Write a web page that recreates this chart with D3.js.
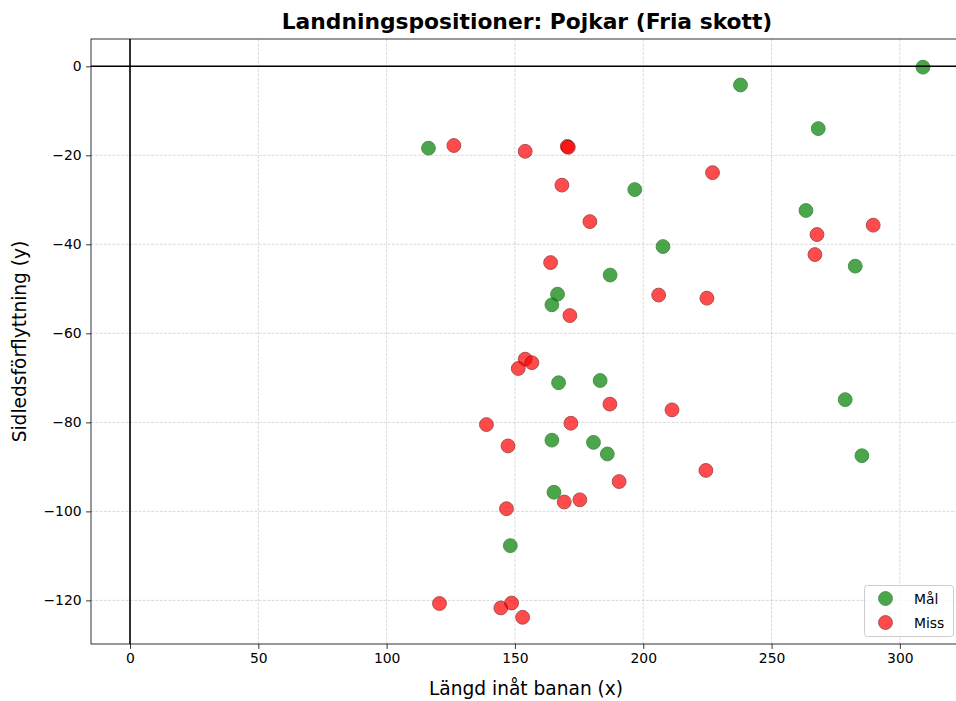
<!DOCTYPE html>
<html>
<head>
<meta charset="utf-8">
<script src="https://cdn.jsdelivr.net/npm/d3@7"></script>
<style>
  html, body { margin: 0; padding: 0; background: #fff; }
  svg { display: block; font-family: "DejaVu Sans", sans-serif; }
</style>
</head>
<body>
<svg id="chart" width="956" height="701"></svg>
<script>
// Landing positions, boys (free shots): x = length along the lane, y = lateral offset
const goalX = [116.3, 309.0, 237.9, 268.2, 196.7, 263.4, 207.7, 282.6, 187.1, 166.6,
               164.4, 167.0, 183.2, 278.7, 164.4, 180.6, 186.0, 285.2, 165.2, 148.2];
const goalY = [-18.4, -0.2, -4.2, -14.0, -27.7, -32.4, -40.5, -44.9, -46.9, -51.2,
               -53.6, -71.1, -70.6, -74.9, -84.0, -84.5, -87.1, -87.5, -95.7, -107.7];

const missX = [126.2, 154.0, 170.4, 170.8, 227.0, 168.3, 289.6, 267.7, 179.2, 266.9,
               163.9, 171.4, 206.0, 224.8, 154.0, 156.6, 151.3, 187.0, 211.2, 171.8,
               138.9, 147.3, 224.4, 190.6, 169.2, 175.3, 146.7, 120.6, 144.5, 148.7, 153.0];
const missY = [-17.8, -19.1, -18.0, -18.2, -23.9, -26.7, -35.7, -37.8, -34.9, -42.3,
               -44.1, -56.0, -51.4, -52.1, -65.8, -66.6, -67.9, -75.9, -77.2, -80.2,
               -80.5, -85.3, -90.8, -93.3, -97.9, -97.4, -99.4, -120.7, -121.7, -120.6, -123.8];

const xTicks = [0, 50, 100, 150, 200, 250, 300];
const yTicks = [0, -20, -40, -60, -80, -100, -120];

const seriesNames = ["Mål", "Miss"];
const fills = ["green", "red"];
const edges = ["darkgreen", "darkred"];

const svg = d3.select("#chart");

const plot = { left: 91, right: 963, top: 39, bottom: 644 };

const x = d3.scaleLinear().domain([-15.2, 324.6]).range([plot.left, plot.right]);
const y = d3.scaleLinear().domain([6.13, -129.8]).range([plot.top, plot.bottom]);

svg.append("defs").append("clipPath").attr("id", "plotclip")
  .append("rect")
  .attr("x", plot.left).attr("y", plot.top)
  .attr("width", plot.right - plot.left).attr("height", plot.bottom - plot.top);

// dashed grid
const grid = svg.append("g").attr("clip-path", "url(#plotclip)");
grid.selectAll("line.gx").data(xTicks).join("line")
  .attr("x1", d => x(d)).attr("x2", d => x(d))
  .attr("y1", plot.top).attr("y2", plot.bottom)
  .attr("stroke", "#b0b0b0").attr("stroke-opacity", 0.6)
  .attr("stroke-width", 0.8).attr("stroke-dasharray", "3,1.3");
grid.selectAll("line.gy").data(yTicks).join("line")
  .attr("y1", d => y(d)).attr("y2", d => y(d))
  .attr("x1", plot.left).attr("x2", plot.right)
  .attr("stroke", "#b0b0b0").attr("stroke-opacity", 0.6)
  .attr("stroke-width", 0.8).attr("stroke-dasharray", "3,1.3");

// scatter points
const pts = svg.append("g").attr("clip-path", "url(#plotclip)");
const goalData = goalX.map((v, i) => [v, goalY[i]]);
const missData = missX.map((v, i) => [v, missY[i]]);
[goalData, missData].forEach((data, k) => {
  pts.append("g").selectAll("circle").data(data).join("circle")
    .attr("cx", d => x(d[0])).attr("cy", d => y(d[1]))
    .attr("r", 6.9)
    .attr("fill", fills[k]).attr("stroke", edges[k])
    .attr("stroke-width", 1).attr("opacity", 0.7);
});

// zero reference lines
const zero = svg.append("g").attr("clip-path", "url(#plotclip)");
zero.append("line")
  .attr("x1", plot.left).attr("x2", plot.right)
  .attr("y1", y(0)).attr("y2", y(0))
  .attr("stroke", "black").attr("stroke-width", 1.6);
zero.append("line")
  .attr("x1", x(0)).attr("x2", x(0))
  .attr("y1", plot.top).attr("y2", plot.bottom)
  .attr("stroke", "black").attr("stroke-width", 1.6);

// axes
const xAxis = d3.axisBottom(x).tickValues(xTicks).tickSize(4.9).tickPadding(4.5)
  .tickFormat(d3.format("d"));
const yAxis = d3.axisLeft(y).tickValues(yTicks).tickSize(4.9).tickPadding(4.5)
  .tickFormat(d3.format("d"));

const gx = svg.append("g").attr("transform", `translate(0,${plot.bottom})`).call(xAxis);
const gy = svg.append("g").attr("transform", `translate(${plot.left},0)`).call(yAxis);
[gx, gy].forEach(g => {
  g.select(".domain").remove();
  g.selectAll(".tick line").attr("stroke", "#000").attr("stroke-width", 0.8);
  g.selectAll(".tick text").attr("fill", "#000").attr("font-size", 13.9)
    .attr("font-family", "DejaVu Sans");
});

// frame
svg.append("rect")
  .attr("x", plot.left).attr("y", plot.top)
  .attr("width", plot.right - plot.left).attr("height", plot.bottom - plot.top)
  .attr("fill", "none").attr("stroke", "#000").attr("stroke-width", 0.8);

// title and axis labels
const cx = (plot.left + plot.right) / 2;
svg.append("text").attr("x", 527).attr("y", 29)
  .attr("text-anchor", "middle").attr("font-size", 21.8).attr("font-weight", "bold")
  .text("Landningspositioner: Pojkar (Fria skott)");
svg.append("text").attr("x", 526).attr("y", 695)
  .attr("text-anchor", "middle").attr("font-size", 18.6)
  .text("Längd inåt banan (x)");
svg.append("text")
  .attr("transform", `translate(26,${(plot.top + plot.bottom) / 2}) rotate(-90)`)
  .attr("text-anchor", "middle").attr("font-size", 18.6)
  .text("Sidledsförflyttning (y)");

// legend, lower right
const lg = svg.append("g");
lg.append("rect")
  .attr("x", 864.5).attr("y", 585.5).attr("width", 89).attr("height", 51)
  .attr("rx", 3).attr("fill", "white").attr("fill-opacity", 0.8)
  .attr("stroke", "#cccccc").attr("stroke-width", 1);
seriesNames.forEach((name, k) => {
  const ly = 598.5 + k * 24;
  lg.append("circle").attr("cx", 885.5).attr("cy", ly).attr("r", 6.9)
    .attr("fill", fills[k]).attr("stroke", edges[k]).attr("stroke-width", 1)
    .attr("opacity", 0.7);
  lg.append("text").attr("x", 914).attr("y", ly + 5)
    .attr("font-size", 13.9).text(name);
});
</script>
</body>
</html>
